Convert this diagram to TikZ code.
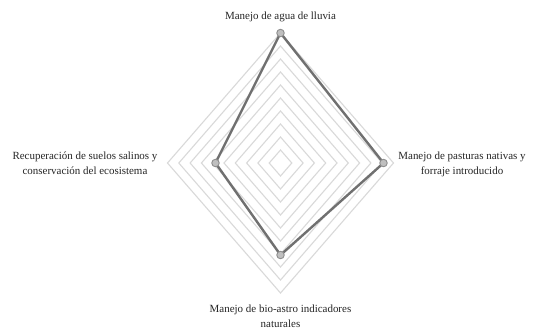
\documentclass[tikz,border=0pt]{standalone}
\usepackage{fontspec}
\setmainfont{Liberation Serif}
\definecolor{gridc}{HTML}{D9D9D9}
\definecolor{datac}{HTML}{707070}
\definecolor{markc}{HTML}{BFBFBF}
\definecolor{txtc}{HTML}{262626}
\tikzset{
  gridline/.style={draw=gridc, line width=1.1bp},
  dataline/.style={draw=datac, line width=2.4bp, line join=round},
  markpt/.style={circle, draw=datac!80, fill=markc, line width=0.9bp, minimum size=7.5bp, inner sep=0pt},
  lbl/.style={align=center, text=txtc, font=\fontsize{11}{15}\selectfont, inner sep=0pt}
}
\begin{document}
\begin{tikzpicture}[x=1bp,y=-1bp]
\useasboundingbox[fill=white] (0,0) rectangle (534,329);
\def\cx{280.5}
\def\cy{163}
\foreach \i in {1,...,10}{
  \draw[gridline] (\cx,\cy-13*\i) -- (\cx+11.3*\i,\cy) -- (\cx,\cy+13*\i) -- (\cx-11.3*\i,\cy) -- cycle;
}
\coordinate (ptop) at (\cx,33);
\coordinate (pright) at (383.5,163);
\coordinate (pbottom) at (\cx,255);
\coordinate (pleft) at (215.5,163);
\draw[dataline] (ptop) -- (pright) -- (pbottom) -- (pleft) -- cycle;
\node[markpt] (mtop) at (ptop) {};
\node[markpt] (mright) at (pright) {};
\node[markpt] (mbottom) at (pbottom) {};
\node[markpt] (mleft) at (pleft) {};
\node[lbl] (ltop) at (\cx,17) {Manejo de agua de lluvia};
\node[lbl] (lright) at (462,164) {Manejo de pasturas nativas y\\forraje introducido};
\node[lbl] (lbottom) at (\cx,316) {Manejo de bio-astro indicadores\\naturales};
\node[lbl] (lleft) at (85,163) {Recuperación de suelos salinos y\\conservación del ecosistema};
\end{tikzpicture}
\end{document}
